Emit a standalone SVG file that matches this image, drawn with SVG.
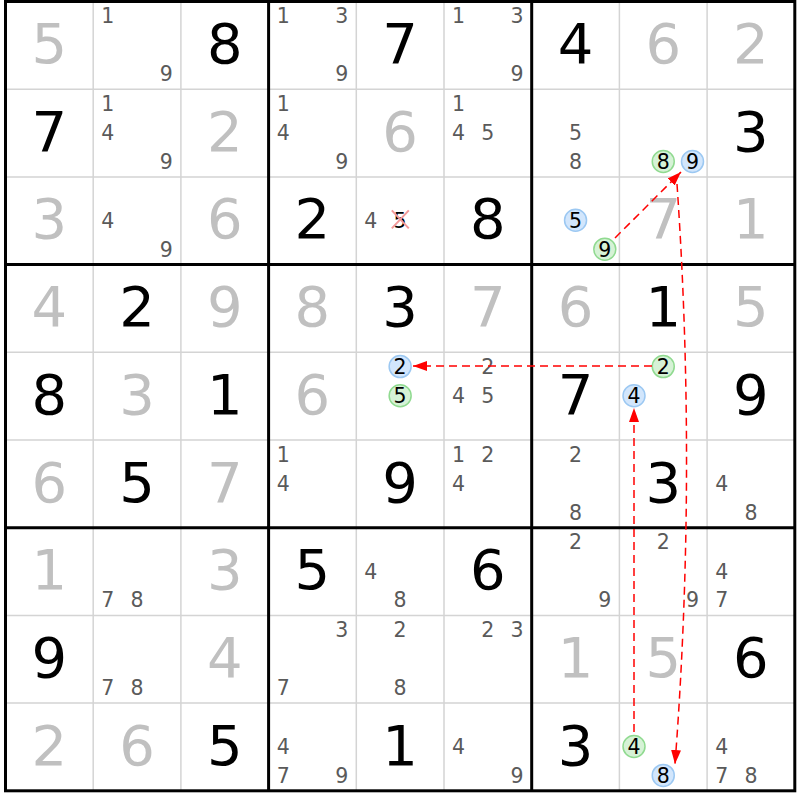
<svg xmlns="http://www.w3.org/2000/svg" width="800" height="800" viewBox="0 0 800 800">
<style>
text{font-family:"DejaVu Sans","Liberation Sans",sans-serif;text-anchor:middle}
.g{font-size:56px;fill:#000}
.s{font-size:56px;fill:#c0c0c0}
.c{font-size:20.5px;fill:#5a5a5a}
.k{font-size:20.5px;fill:#000}
.cb{fill:#d2e6fc;stroke:#9cc8f2;stroke-width:1.5}
.cg{fill:#d6f2d6;stroke:#90da90;stroke-width:1.5}
.thin{stroke:#d4d4d4;stroke-width:1.5}
.thick{stroke:#000;stroke-width:3}
.arr{fill:none;stroke:#ff0000;stroke-width:1.5;stroke-dasharray:8,5}
.x{stroke:#f49a9a;stroke-width:2}
</style>
<defs>
<marker id="ah" viewBox="0 0 14 10" refX="14" refY="5" markerWidth="14" markerHeight="10" markerUnits="userSpaceOnUse" orient="auto">
<path d="M0,0 L14,5 L0,10 z" fill="#ff0000"/>
</marker>
</defs>
<rect x="0" y="0" width="800" height="800" fill="#fff"/>
<g id="gridlines">
<path class="thin" d="M93.2 1.5V790.8M180.9 1.5V790.8M356.3 1.5V790.8M444 1.5V790.8M619.4 1.5V790.8M707.1 1.5V790.8M5.5 89.2H794.8M5.5 176.9H794.8M5.5 352.3H794.8M5.5 440H794.8M5.5 615.4H794.8M5.5 703.1H794.8"/>
<path class="thick" d="M268.6 1.5V790.8M531.7 1.5V790.8M5.5 264.6H794.8M5.5 527.7H794.8"/>
<rect class="thick" x="5.5" y="1.5" width="789.3" height="789.3" fill="none"/>
</g>
<!-- Row 0 -->
<g id="r0c0" transform="translate(5.5,1.5)"><text class="s" x="43.85" y="61.5">5</text></g>
<g id="r0c1" transform="translate(93.2,1.5)"><text class="c" x="14.6" y="21.8">1</text><text class="c" x="73.1" y="79.8">9</text></g>
<g id="r0c2" transform="translate(180.9,1.5)"><text class="g" x="43.85" y="61.5">8</text></g>
<g id="r0c3" transform="translate(268.6,1.5)"><text class="c" x="14.6" y="21.8">1</text><text class="c" x="73.1" y="21.8">3</text><text class="c" x="73.1" y="79.8">9</text></g>
<g id="r0c4" transform="translate(356.3,1.5)"><text class="g" x="43.85" y="61.5">7</text></g>
<g id="r0c5" transform="translate(444,1.5)"><text class="c" x="14.6" y="21.8">1</text><text class="c" x="73.1" y="21.8">3</text><text class="c" x="73.1" y="79.8">9</text></g>
<g id="r0c6" transform="translate(531.7,1.5)"><text class="g" x="43.85" y="61.5">4</text></g>
<g id="r0c7" transform="translate(619.4,1.5)"><text class="s" x="43.85" y="61.5">6</text></g>
<g id="r0c8" transform="translate(707.1,1.5)"><text class="s" x="43.85" y="61.5">2</text></g>
<!-- Row 1 -->
<g id="r1c0" transform="translate(5.5,89.2)"><text class="g" x="43.85" y="61.5">7</text></g>
<g id="r1c1" transform="translate(93.2,89.2)"><text class="c" x="14.6" y="21.8">1</text><text class="c" x="14.6" y="50.9">4</text><text class="c" x="73.1" y="79.8">9</text></g>
<g id="r1c2" transform="translate(180.9,89.2)"><text class="s" x="43.85" y="61.5">2</text></g>
<g id="r1c3" transform="translate(268.6,89.2)"><text class="c" x="14.6" y="21.8">1</text><text class="c" x="14.6" y="50.9">4</text><text class="c" x="73.1" y="79.8">9</text></g>
<g id="r1c4" transform="translate(356.3,89.2)"><text class="s" x="43.85" y="61.5">6</text></g>
<g id="r1c5" transform="translate(444,89.2)"><text class="c" x="14.6" y="21.8">1</text><text class="c" x="14.6" y="50.9">4</text><text class="c" x="43.85" y="50.9">5</text></g>
<g id="r1c6" transform="translate(531.7,89.2)"><text class="c" x="43.85" y="50.9">5</text><text class="c" x="43.85" y="79.8">8</text></g>
<g id="r1c7" transform="translate(619.4,89.2)"><circle class="cg" cx="43.85" cy="72.3" r="11"/><text class="k" x="43.85" y="79.8">8</text><circle class="cb" cx="73.1" cy="72.3" r="11"/><text class="k" x="73.1" y="79.8">9</text></g>
<g id="r1c8" transform="translate(707.1,89.2)"><text class="g" x="43.85" y="61.5">3</text></g>
<!-- Row 2 -->
<g id="r2c0" transform="translate(5.5,176.9)"><text class="s" x="43.85" y="61.5">3</text></g>
<g id="r2c1" transform="translate(93.2,176.9)"><text class="c" x="14.6" y="50.9">4</text><text class="c" x="73.1" y="79.8">9</text></g>
<g id="r2c2" transform="translate(180.9,176.9)"><text class="s" x="43.85" y="61.5">6</text></g>
<g id="r2c3" transform="translate(268.6,176.9)"><text class="g" x="43.85" y="61.5">2</text></g>
<g id="r2c4" transform="translate(356.3,176.9)"><text class="c" x="14.6" y="50.9">4</text><text class="k" x="43.85" y="50.9">5</text><path class="x" d="M35.5 33.5L52.5 51.5M52.5 33.5L35.5 51.5"/></g>
<g id="r2c5" transform="translate(444,176.9)"><text class="g" x="43.85" y="61.5">8</text></g>
<g id="r2c6" transform="translate(531.7,176.9)"><circle class="cb" cx="43.85" cy="43.4" r="11"/><text class="k" x="43.85" y="50.9">5</text><circle class="cg" cx="73.1" cy="72.3" r="11"/><text class="k" x="73.1" y="79.8">9</text></g>
<g id="r2c7" transform="translate(619.4,176.9)"><text class="s" x="43.85" y="61.5">7</text></g>
<g id="r2c8" transform="translate(707.1,176.9)"><text class="s" x="43.85" y="61.5">1</text></g>
<!-- Row 3 -->
<g id="r3c0" transform="translate(5.5,264.6)"><text class="s" x="43.85" y="61.5">4</text></g>
<g id="r3c1" transform="translate(93.2,264.6)"><text class="g" x="43.85" y="61.5">2</text></g>
<g id="r3c2" transform="translate(180.9,264.6)"><text class="s" x="43.85" y="61.5">9</text></g>
<g id="r3c3" transform="translate(268.6,264.6)"><text class="s" x="43.85" y="61.5">8</text></g>
<g id="r3c4" transform="translate(356.3,264.6)"><text class="g" x="43.85" y="61.5">3</text></g>
<g id="r3c5" transform="translate(444,264.6)"><text class="s" x="43.85" y="61.5">7</text></g>
<g id="r3c6" transform="translate(531.7,264.6)"><text class="s" x="43.85" y="61.5">6</text></g>
<g id="r3c7" transform="translate(619.4,264.6)"><text class="g" x="43.85" y="61.5">1</text></g>
<g id="r3c8" transform="translate(707.1,264.6)"><text class="s" x="43.85" y="61.5">5</text></g>
<!-- Row 4 -->
<g id="r4c0" transform="translate(5.5,352.3)"><text class="g" x="43.85" y="61.5">8</text></g>
<g id="r4c1" transform="translate(93.2,352.3)"><text class="s" x="43.85" y="61.5">3</text></g>
<g id="r4c2" transform="translate(180.9,352.3)"><text class="g" x="43.85" y="61.5">1</text></g>
<g id="r4c3" transform="translate(268.6,352.3)"><text class="s" x="43.85" y="61.5">6</text></g>
<g id="r4c4" transform="translate(356.3,352.3)"><circle class="cb" cx="43.85" cy="14.3" r="11"/><text class="k" x="43.85" y="21.8">2</text><circle class="cg" cx="43.85" cy="43.4" r="11"/><text class="k" x="43.85" y="50.9">5</text></g>
<g id="r4c5" transform="translate(444,352.3)"><text class="c" x="43.85" y="21.8">2</text><text class="c" x="14.6" y="50.9">4</text><text class="c" x="43.85" y="50.9">5</text></g>
<g id="r4c6" transform="translate(531.7,352.3)"><text class="g" x="43.85" y="61.5">7</text></g>
<g id="r4c7" transform="translate(619.4,352.3)"><circle class="cg" cx="43.85" cy="14.3" r="11"/><text class="k" x="43.85" y="21.8">2</text><circle class="cb" cx="14.6" cy="43.4" r="11"/><text class="k" x="14.6" y="50.9">4</text></g>
<g id="r4c8" transform="translate(707.1,352.3)"><text class="g" x="43.85" y="61.5">9</text></g>
<!-- Row 5 -->
<g id="r5c0" transform="translate(5.5,440)"><text class="s" x="43.85" y="61.5">6</text></g>
<g id="r5c1" transform="translate(93.2,440)"><text class="g" x="43.85" y="61.5">5</text></g>
<g id="r5c2" transform="translate(180.9,440)"><text class="s" x="43.85" y="61.5">7</text></g>
<g id="r5c3" transform="translate(268.6,440)"><text class="c" x="14.6" y="21.8">1</text><text class="c" x="14.6" y="50.9">4</text></g>
<g id="r5c4" transform="translate(356.3,440)"><text class="g" x="43.85" y="61.5">9</text></g>
<g id="r5c5" transform="translate(444,440)"><text class="c" x="14.6" y="21.8">1</text><text class="c" x="43.85" y="21.8">2</text><text class="c" x="14.6" y="50.9">4</text></g>
<g id="r5c6" transform="translate(531.7,440)"><text class="c" x="43.85" y="21.8">2</text><text class="c" x="43.85" y="79.8">8</text></g>
<g id="r5c7" transform="translate(619.4,440)"><text class="g" x="43.85" y="61.5">3</text></g>
<g id="r5c8" transform="translate(707.1,440)"><text class="c" x="14.6" y="50.9">4</text><text class="c" x="43.85" y="79.8">8</text></g>
<!-- Row 6 -->
<g id="r6c0" transform="translate(5.5,527.7)"><text class="s" x="43.85" y="61.5">1</text></g>
<g id="r6c1" transform="translate(93.2,527.7)"><text class="c" x="14.6" y="79.8">7</text><text class="c" x="43.85" y="79.8">8</text></g>
<g id="r6c2" transform="translate(180.9,527.7)"><text class="s" x="43.85" y="61.5">3</text></g>
<g id="r6c3" transform="translate(268.6,527.7)"><text class="g" x="43.85" y="61.5">5</text></g>
<g id="r6c4" transform="translate(356.3,527.7)"><text class="c" x="14.6" y="50.9">4</text><text class="c" x="43.85" y="79.8">8</text></g>
<g id="r6c5" transform="translate(444,527.7)"><text class="g" x="43.85" y="61.5">6</text></g>
<g id="r6c6" transform="translate(531.7,527.7)"><text class="c" x="43.85" y="21.8">2</text><text class="c" x="73.1" y="79.8">9</text></g>
<g id="r6c7" transform="translate(619.4,527.7)"><text class="c" x="43.85" y="21.8">2</text><text class="c" x="73.1" y="79.8">9</text></g>
<g id="r6c8" transform="translate(707.1,527.7)"><text class="c" x="14.6" y="50.9">4</text><text class="c" x="14.6" y="79.8">7</text></g>
<!-- Row 7 -->
<g id="r7c0" transform="translate(5.5,615.4)"><text class="g" x="43.85" y="61.5">9</text></g>
<g id="r7c1" transform="translate(93.2,615.4)"><text class="c" x="14.6" y="79.8">7</text><text class="c" x="43.85" y="79.8">8</text></g>
<g id="r7c2" transform="translate(180.9,615.4)"><text class="s" x="43.85" y="61.5">4</text></g>
<g id="r7c3" transform="translate(268.6,615.4)"><text class="c" x="73.1" y="21.8">3</text><text class="c" x="14.6" y="79.8">7</text></g>
<g id="r7c4" transform="translate(356.3,615.4)"><text class="c" x="43.85" y="21.8">2</text><text class="c" x="43.85" y="79.8">8</text></g>
<g id="r7c5" transform="translate(444,615.4)"><text class="c" x="43.85" y="21.8">2</text><text class="c" x="73.1" y="21.8">3</text></g>
<g id="r7c6" transform="translate(531.7,615.4)"><text class="s" x="43.85" y="61.5">1</text></g>
<g id="r7c7" transform="translate(619.4,615.4)"><text class="s" x="43.85" y="61.5">5</text></g>
<g id="r7c8" transform="translate(707.1,615.4)"><text class="g" x="43.85" y="61.5">6</text></g>
<!-- Row 8 -->
<g id="r8c0" transform="translate(5.5,703.1)"><text class="s" x="43.85" y="61.5">2</text></g>
<g id="r8c1" transform="translate(93.2,703.1)"><text class="s" x="43.85" y="61.5">6</text></g>
<g id="r8c2" transform="translate(180.9,703.1)"><text class="g" x="43.85" y="61.5">5</text></g>
<g id="r8c3" transform="translate(268.6,703.1)"><text class="c" x="14.6" y="50.9">4</text><text class="c" x="14.6" y="79.8">7</text><text class="c" x="73.1" y="79.8">9</text></g>
<g id="r8c4" transform="translate(356.3,703.1)"><text class="g" x="43.85" y="61.5">1</text></g>
<g id="r8c5" transform="translate(444,703.1)"><text class="c" x="14.6" y="50.9">4</text><text class="c" x="73.1" y="79.8">9</text></g>
<g id="r8c6" transform="translate(531.7,703.1)"><text class="g" x="43.85" y="61.5">3</text></g>
<g id="r8c7" transform="translate(619.4,703.1)"><circle class="cg" cx="14.6" cy="43.4" r="11"/><text class="k" x="14.6" y="50.9">4</text><circle class="cb" cx="43.85" cy="72.3" r="11"/><text class="k" x="43.85" y="79.8">8</text></g>
<g id="r8c8" transform="translate(707.1,703.1)"><text class="c" x="14.6" y="50.9">4</text><text class="c" x="14.6" y="79.8">7</text><text class="c" x="43.85" y="79.8">8</text></g>
<g id="connectors">
<path class="arr" d="M615 238L681 172" marker-end="url(#ah)"/>
<path class="arr" d="M677 184Q697 475 675 764" marker-end="url(#ah)"/>
<path class="arr" d="M652 366L413 366" marker-end="url(#ah)"/>
<path class="arr" d="M634 732L634 408" marker-end="url(#ah)"/>
</g>
</svg>
